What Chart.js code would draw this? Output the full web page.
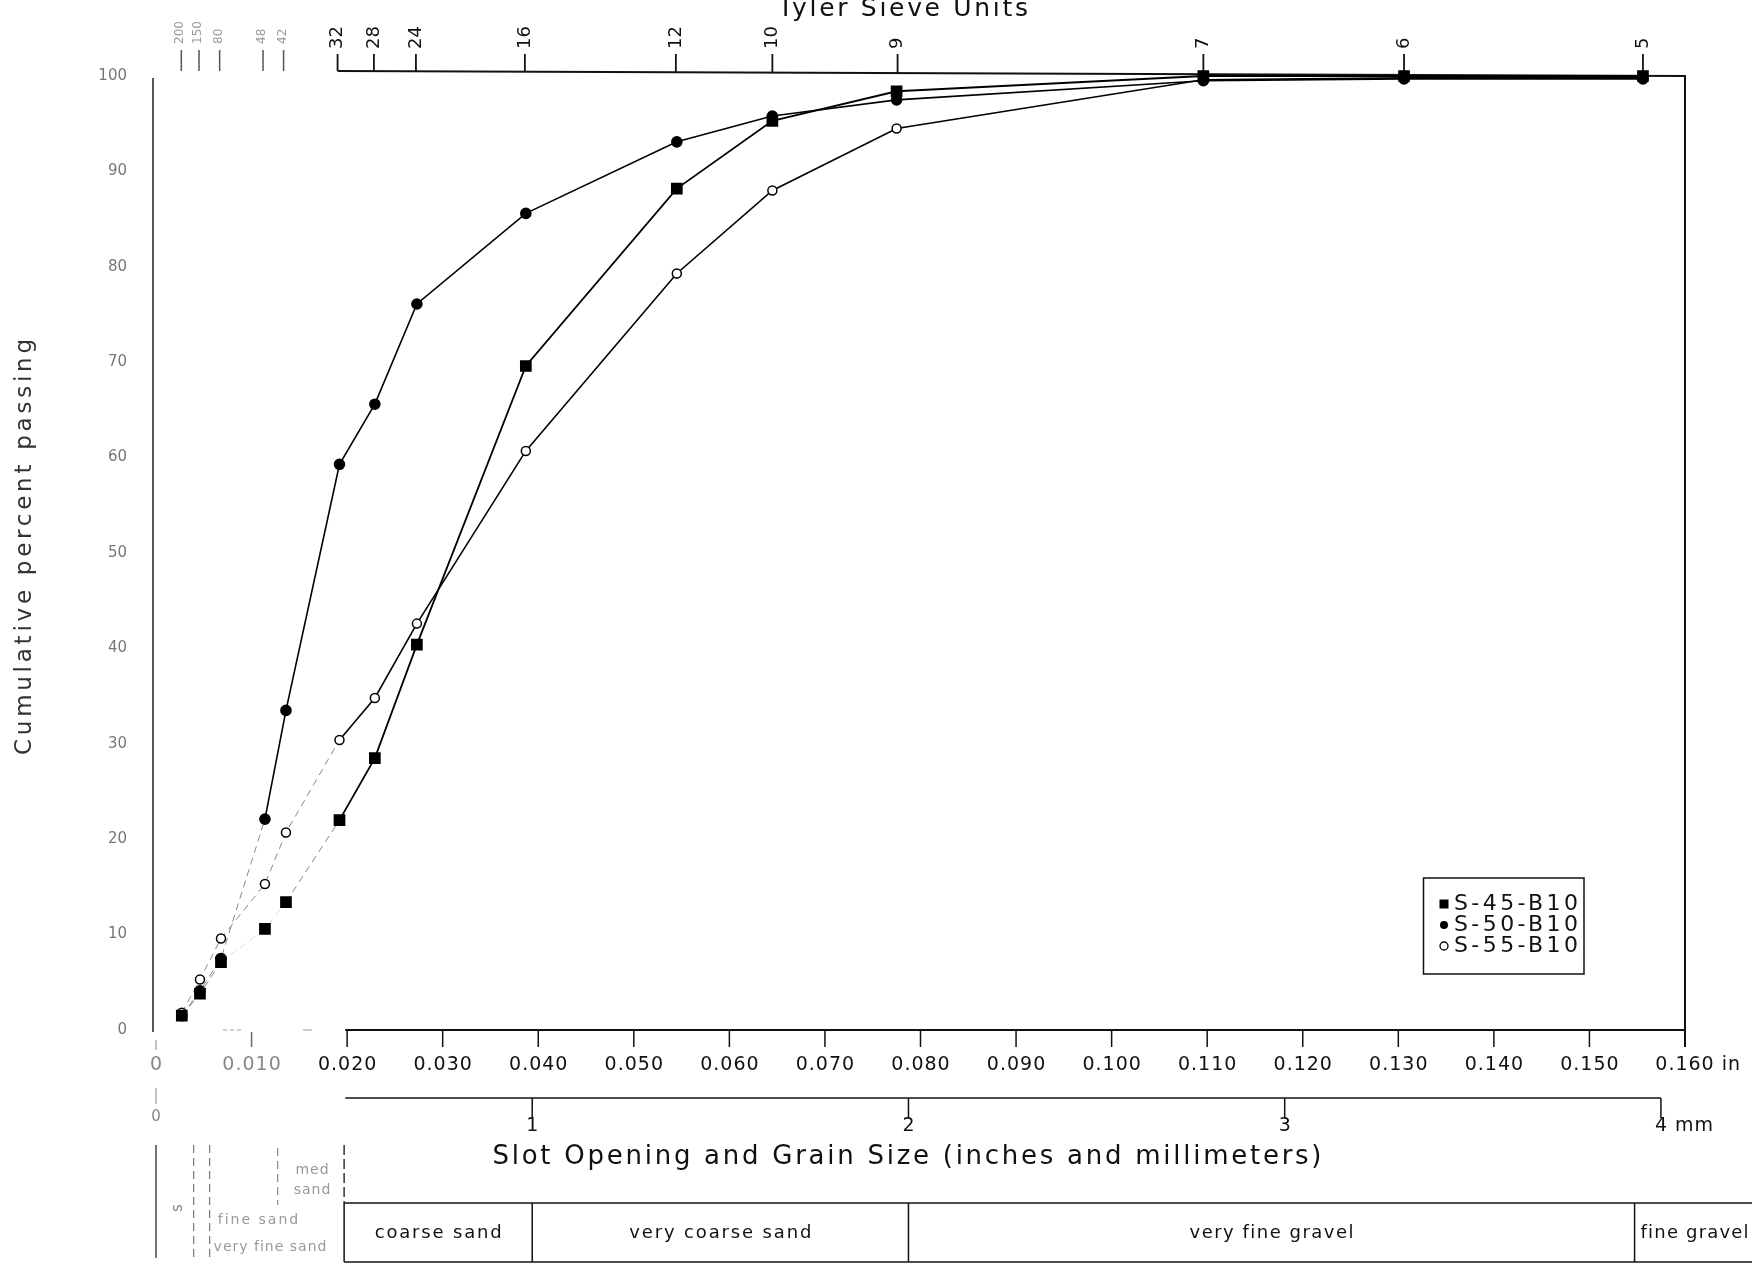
<!DOCTYPE html>
<html>
<head>
<meta charset="utf-8">
<title>Cumulative percent passing</title>
<script src="https://cdn.jsdelivr.net/npm/chart.js@4.4.1/dist/chart.umd.min.js"></script>
<style>
  html, body { margin: 0; padding: 0; background: #fff; }
  canvas { display: block; }
</style>
</head>
<body>
<canvas id="chart" width="1752" height="1267"></canvas>
<script>
// Sieve openings (inches) where each sample was measured
const sieveInches = [0.0027, 0.0046, 0.0068, 0.0114, 0.0136, 0.0192, 0.0229, 0.0273, 0.0387, 0.0545, 0.0645, 0.0775, 0.1096, 0.1306, 0.1556];

// Cumulative percent passing for each sample
const s45 = [1.5, 3.8, 7.1, 10.6, 13.4, 22.0, 28.5, 40.4, 69.6, 88.2, 95.3, 98.4, 100, 100, 100];
const s50 = [1.5, 4.1, 7.5, 22.1, 33.5, 59.3, 65.6, 76.1, 85.6, 93.1, 95.8, 97.5, 99.5, 99.7, 99.7];
const s55 = [1.8, 5.3, 9.6, 15.3, 20.7, 30.4, 34.8, 42.6, 60.7, 79.3, 88.0, 94.5, 99.6, 99.8, 99.8];

// Axis ticks
const yTicks = [0, 10, 20, 30, 40, 50, 60, 70, 80, 90, 100];
const inchTicks = [0, 0.01, 0.02, 0.03, 0.04, 0.05, 0.06, 0.07, 0.08, 0.09, 0.10, 0.11, 0.12, 0.13, 0.14, 0.15, 0.16];
const inchLabels = ["0", "0.010", "0.020", "0.030", "0.040", "0.050", "0.060", "0.070", "0.080", "0.090", "0.100", "0.110", "0.120", "0.130", "0.140", "0.150", "0.160"];
const mmTicks = [1, 2, 3, 4];
const mmLabels = ["1", "2", "3", "4"];

// Tyler sieve units (top axis)
const tylerMesh = ["200", "150", "80", "48", "42", "32", "28", "24", "16", "12", "10", "9", "7", "6", "5"];
const tylerInches = [0.00265, 0.0045, 0.00666, 0.0112, 0.01335, 0.0190, 0.0228, 0.0272, 0.0386, 0.0544, 0.0645, 0.0776, 0.1096, 0.1306, 0.1556];

// Grain size classes, lower edge in mm
const classNames = ["coarse sand", "very coarse sand", "very fine gravel", "fine gravel"];
const classEdgesMm = [0.5, 1, 2, 3.93];

const FONT = '"DejaVu Sans", Verdana, sans-serif';

function toPoints(vals) {
  return vals.map((v, i) => ({ x: sieveInches[i], y: v }));
}

function line(ctx, x1, y1, x2, y2, w, color, dash) {
  ctx.beginPath();
  ctx.lineWidth = w || 1.5;
  ctx.strokeStyle = color || "#111";
  ctx.setLineDash(dash || []);
  ctx.moveTo(x1, y1);
  ctx.lineTo(x2, y2);
  ctx.stroke();
  ctx.setLineDash([]);
}

// draw text, optionally stretched to a given width with letter spacing
function label(ctx, str, x, y, size, opts) {
  opts = opts || {};
  const align = opts.align || "center";
  ctx.save();
  ctx.font = size + "px " + FONT;
  ctx.fillStyle = opts.color || "#111";
  ctx.letterSpacing = "0px";
  let sp = opts.spacing || 0;
  if (opts.width) {
    sp = Math.max(0, (opts.width - ctx.measureText(str).width) / Math.max(1, str.length - 1));
  }
  ctx.letterSpacing = sp + "px";
  ctx.translate(x, y);
  if (opts.rot) ctx.rotate(opts.rot);
  ctx.textAlign = align;
  ctx.textBaseline = "middle";
  let dx = 0;
  if (align === "center") dx = sp / 2;
  else if (align === "right") dx = sp;
  ctx.fillText(str, dx, 0);
  ctx.restore();
}

const decor = {
  id: "decor",
  beforeDatasetsDraw(chart) {
    const { ctx, chartArea: a, scales: { x, y } } = chart;
    const mm = v => x.getPixelForValue(v / 25.4);
    ctx.save();

    // left axis + labels
    line(ctx, 153, 78, 153, a.bottom + 2, 1.5, "#222");
    yTicks.forEach(v => {
      label(ctx, String(v), 127, y.getPixelForValue(v), 15, { align: "right", color: "#777" });
    });
    label(ctx, "Cumulative percent passing", 25, 547, 23, { rot: -Math.PI / 2, width: 416, color: "#333" });

    // bottom inch axis
    const x20 = x.getPixelForValue(0.0198);
    line(ctx, x20, a.bottom, a.right, a.bottom, 2);
    line(ctx, 223, a.bottom, 243, a.bottom, 1, "#999", [4, 3]);
    line(ctx, 303, a.bottom, 312, a.bottom, 1, "#999");
    inchTicks.forEach((v, i) => {
      const px = x.getPixelForValue(v);
      const faint = v < 0.015;
      if (v > 0) line(ctx, px, a.bottom + (faint ? 2 : 0), px, a.bottom + 17, 1.5, faint ? "#666" : "#111");
      if (i === inchTicks.length - 1) {
        ctx.font = "19px " + FONT;
        ctx.letterSpacing = "1px";
        const w = ctx.measureText(inchLabels[i]).width;
        ctx.letterSpacing = "0px";
        label(ctx, inchLabels[i] + " in", px - w / 2, a.bottom + 35, 19, { align: "left", spacing: 1 });
      } else {
        label(ctx, inchLabels[i], px, a.bottom + 35, 19, { spacing: 1, color: faint ? "#888" : "#111" });
      }
    });

    // right border
    line(ctx, a.right, a.top - 1, a.right, a.bottom + 17, 2);

    // top Tyler axis
    const t32 = x.getPixelForValue(0.0190);
    line(ctx, t32, 71, a.right, a.top, 2);
    tylerInches.forEach((v, i) => {
      const px = x.getPixelForValue(v);
      if (i < 5) {
        line(ctx, px, 50, px, 71, 1.5, "#555");
        label(ctx, tylerMesh[i], px - 1, 44, 12, { align: "left", rot: -Math.PI / 2, color: "#999" });
      } else {
        const ly = 71 + (a.top - 71) * (px - t32) / (a.right - t32);
        line(ctx, px, 54, px, ly, 1.8);
        label(ctx, tylerMesh[i], px, 49, 18, { align: "left", rot: -Math.PI / 2 });
      }
    });
    label(ctx, "Tyler Sieve Units", 903, 9, 25, { width: 250 });

    // mm axis
    const mmY = 1098;
    line(ctx, x20, mmY, mm(4), mmY, 1.5);
    mmTicks.forEach((v, i) => {
      const px = mm(v);
      line(ctx, px, mmY, px, mmY + 20, 1.5);
      if (i === mmTicks.length - 1) {
        ctx.font = "19px " + FONT;
        const w = ctx.measureText(mmLabels[i]).width;
        label(ctx, mmLabels[i] + " mm", px - w / 2, mmY + 28, 19, { align: "left", spacing: 1 });
      } else {
        label(ctx, mmLabels[i], px, mmY + 28, 19);
      }
    });
    line(ctx, 156, 1088, 156, 1104, 1, "#888");
    label(ctx, "0", 156, 1117, 15, { color: "#888" });
    line(ctx, 156, 1040, 156, 1050, 1, "#888");

    label(ctx, "Slot Opening and Grain Size (inches and millimeters)", 907, 1157, 26, { width: 829 });

    // grain size classes
    const boxTop = 1203, boxBot = 1262;
    const e0 = mm(classEdgesMm[0]);
    line(ctx, e0, boxTop, chart.width, boxTop, 1.5);
    line(ctx, e0, boxBot, chart.width, boxBot, 1.5);
    line(ctx, e0, 1145, e0, boxTop, 1.5, "#333", [10, 4]);
    classEdgesMm.forEach(v => line(ctx, mm(v), boxTop, mm(v), boxBot, 1.5));
    const widths = [127, 182, 164, 108];
    classNames.forEach((name, i) => {
      const left = mm(classEdgesMm[i]);
      const right = i < classEdgesMm.length - 1 ? mm(classEdgesMm[i + 1]) : null;
      if (right) label(ctx, name, (left + right) / 2, 1233, 18, { width: widths[i] });
      else label(ctx, name, left + 6, 1233, 18, { align: "left", width: widths[i] });
    });

    // fine fractions at the far left (faded in the original)
    line(ctx, 156, 1145, 156, 1258, 1.5, "#444");
    [0.00394, 0.00561].forEach(v => {
      const px = x.getPixelForValue(v);
      line(ctx, px, 1145, px, 1258, 1.2, "#777", [8, 5]);
    });
    const px32 = x.getPixelForValue(0.01273);
    line(ctx, px32, 1148, px32, 1205, 1.2, "#888", [8, 5]);
    label(ctx, "s", 178, 1208, 15, { rot: -Math.PI / 2, color: "#888" });
    label(ctx, "med", 312, 1170, 14, { color: "#999", spacing: 1 });
    label(ctx, "sand", 312, 1190, 14, { color: "#999", spacing: 1 });
    label(ctx, "fine sand", 258, 1220, 14, { color: "#999", spacing: 2 });
    label(ctx, "very fine sand", 270, 1247, 14, { color: "#999", spacing: 1 });

    ctx.restore();
  },
  afterDraw(chart) {
    const ctx = chart.ctx;
    ctx.save();
    ctx.lineWidth = 1.5;
    ctx.strokeStyle = "#111";
    ctx.strokeRect(1423.5, 878, 160.5, 96);
    chart.data.datasets.forEach((ds, i) => {
      const cy = 904 + i * 21;
      ctx.fillStyle = "#000";
      ctx.strokeStyle = "#000";
      ctx.lineWidth = 1.3;
      if (ds.pointStyle === "rect") {
        ctx.fillRect(1439.5, cy - 4.5, 9, 9);
      } else {
        ctx.beginPath();
        ctx.arc(1444, cy, 4, 0, Math.PI * 2);
        if (ds.pointBackgroundColor === "#fff") ctx.stroke();
        else ctx.fill();
      }
      label(ctx, ds.label, 1454, cy, 22, { align: "left", width: 124 });
    });
    ctx.restore();
  }
};

// faint (faded) stretches of the lines in the small sizes
const faintUpTo = [5, 3, 5];
function seg(di) {
  return {
    borderColor: c => (c.p1DataIndex <= faintUpTo[di] ? (di === 0 && (c.p1DataIndex === 3 || c.p1DataIndex === 4) ? "#ddd" : "#888") : undefined),
    borderDash: c => (c.p1DataIndex <= faintUpTo[di] ? [7, 5] : undefined),
    borderWidth: c => (c.p1DataIndex <= faintUpTo[di] ? 1 : undefined)
  };
}

new Chart(document.getElementById("chart"), {
  type: "scatter",
  data: {
    datasets: [
      {
        label: "S-45-B10",
        data: toPoints(s45),
        pointStyle: "rect",
        pointRadius: 7,
        pointBackgroundColor: "#000",
        pointBorderColor: "#000",
        borderColor: "#000",
        borderWidth: 1.8,
        showLine: true,
        clip: false,
        segment: seg(0)
      },
      {
        label: "S-50-B10",
        data: toPoints(s50),
        pointStyle: "circle",
        pointRadius: 5,
        pointBackgroundColor: "#000",
        pointBorderColor: "#000",
        borderColor: "#000",
        borderWidth: 1.6,
        showLine: true,
        clip: false,
        segment: seg(1)
      },
      {
        label: "S-55-B10",
        data: toPoints(s55),
        pointStyle: "circle",
        pointRadius: 4.5,
        pointBorderWidth: 1.5,
        pointBackgroundColor: "#fff",
        pointBorderColor: "#000",
        borderColor: "#000",
        borderWidth: 1.6,
        showLine: true,
        clip: false,
        segment: seg(2)
      }
    ]
  },
  options: {
    responsive: false,
    animation: false,
    devicePixelRatio: 1,
    layout: { padding: { left: 156, right: 67, top: 76, bottom: 237 } },
    scales: {
      x: { type: "linear", min: 0, max: 0.16, display: false },
      y: { type: "linear", min: 0, max: 100, display: false }
    },
    plugins: {
      legend: { display: false },
      tooltip: { enabled: false }
    },
    elements: { line: { tension: 0 } }
  },
  plugins: [decor]
});
</script>
</body>
</html>
